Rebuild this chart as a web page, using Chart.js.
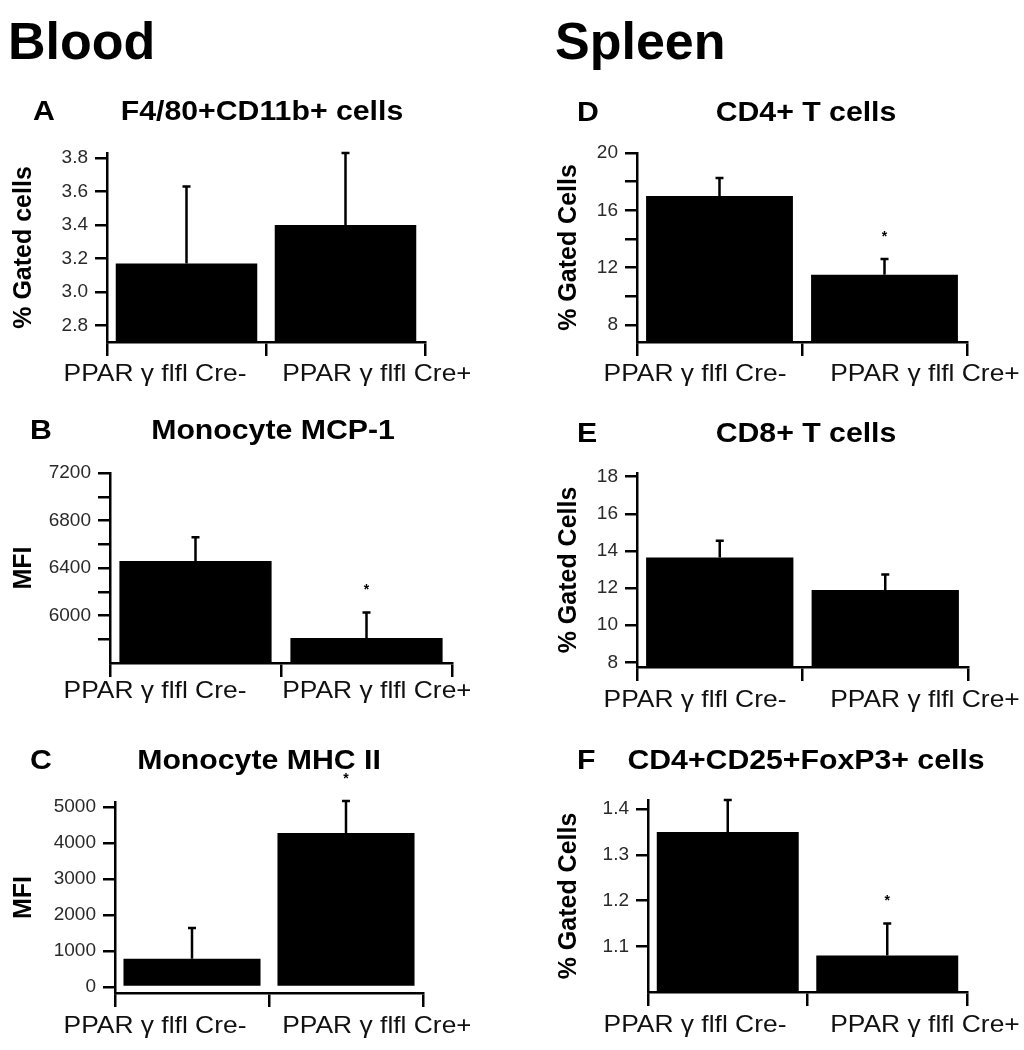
<!DOCTYPE html>
<html lang="en">
<head>
<meta charset="UTF-8">
<title>PPAR γ flfl Cre- vs Cre+ : blood and spleen</title>
<style>
    body { margin: 0; background: #fff; width: 1024px; height: 1050px; position: relative; overflow: hidden; font-family: 'Liberation Sans', Arial, sans-serif; }
    .header { position: absolute; top: 11px; margin: 0; font-size: 52px; line-height: 60px; font-weight: bold; color: #000; }
    canvas { position: absolute; }
</style>
<script src="https://cdn.jsdelivr.net/npm/chart.js"></script>
</head>
<body>
<h1 class="header" style="left:8px">Blood</h1>
<h1 class="header" style="left:555px">Spleen</h1>
<div id="charts"></div>
<script>
    // groups (x axis)
    const groups = ['PPAR γ flfl Cre-', 'PPAR γ flfl Cre+'];

    // A - blood F4/80+CD11b+ cells (% gated)
    const f480Mean = [3.17, 3.40];
    const f480Err = [0.46, 0.43];
    const f480Sig = [false, false];
    const f480Ticks = [2.8, 3.0, 3.2, 3.4, 3.6, 3.8];
    const f480Labels = [2.8, 3.0, 3.2, 3.4, 3.6, 3.8];

    // B - blood monocyte MCP-1 (MFI)
    const mcpMean = [6460, 5810];
    const mcpErr = [200, 215];
    const mcpSig = [false, true];
    const mcpTicks = [5800, 6000, 6200, 6400, 6600, 6800, 7000, 7200];
    const mcpLabels = [6000, 6400, 6800, 7200];

    // C - blood monocyte MHC II (MFI)
    const mhcMean = [780, 4280];
    const mhcErr = [860, 890];
    const mhcSig = [false, true];
    const mhcTicks = [0, 1000, 2000, 3000, 4000, 5000];
    const mhcLabels = [0, 1000, 2000, 3000, 4000, 5000];

    // D - spleen CD4+ T cells (% gated)
    const cd4Mean = [17.0, 11.5];
    const cd4Err = [1.25, 1.1];
    const cd4Sig = [false, true];
    const cd4Ticks = [8, 10, 12, 14, 16, 18, 20];
    const cd4Labels = [8, 12, 16, 20];

    // E - spleen CD8+ T cells (% gated)
    const cd8Mean = [13.65, 11.9];
    const cd8Err = [0.9, 0.83];
    const cd8Sig = [false, false];
    const cd8Ticks = [8, 10, 12, 14, 16, 18];
    const cd8Labels = [8, 10, 12, 14, 16, 18];

    // F - spleen CD4+CD25+FoxP3+ cells (% gated)
    const tregMean = [1.35, 1.08];
    const tregErr = [0.07, 0.07];
    const tregSig = [false, true];
    const tregTicks = [1.1, 1.2, 1.3, 1.4];
    const tregLabels = [1.1, 1.2, 1.3, 1.4];

    const FONT = "'Liberation Sans', Arial, sans-serif";
    Chart.defaults.font.family = FONT;

    const panels = [
        { letter: 'A', title: 'F4/80+CD11b+ cells', yTitle: '% Gated cells', mean: f480Mean, err: f480Err, sig: f480Sig,
          ticks: f480Ticks, labels: f480Labels, min: 2.7, max: 3.83, dec: 1,
          box: { x: 0, y: 80, w: 470, h: 320 }, area: { l: 107, r: 425, t: 153, b: 342 },
          letterX: 33, titleX: 262, titleY: 113, labelX: [155, 377], labelY: 374 },
        { letter: 'B', title: 'Monocyte MCP-1', yTitle: 'MFI', mean: mcpMean, err: mcpErr, sig: mcpSig,
          ticks: mcpTicks, labels: mcpLabels, min: 5600, max: 7200, dec: 0,
          box: { x: 0, y: 400, w: 470, h: 320 }, area: { l: 110, r: 452, t: 473, b: 663 },
          letterX: 30, titleX: 273, titleY: 432, labelX: [155, 377], labelY: 691 },
        { letter: 'C', title: 'Monocyte MHC II', yTitle: 'MFI', mean: mhcMean, err: mhcErr, sig: mhcSig,
          ticks: mhcTicks, labels: mhcLabels, min: -170, max: 5140, dec: 0,
          box: { x: 0, y: 730, w: 470, h: 320 }, area: { l: 115, r: 423, t: 802, b: 993 },
          letterX: 30, titleX: 259, titleY: 762, labelX: [155, 377], labelY: 1026 },
        { letter: 'D', title: 'CD4+ T cells', yTitle: '% Gated Cells', mean: cd4Mean, err: cd4Err, sig: cd4Sig,
          ticks: cd4Ticks, labels: cd4Labels, min: 6.8, max: 20, dec: 0,
          box: { x: 545, y: 80, w: 479, h: 320 }, area: { l: 637, r: 967, t: 153, b: 342 },
          letterX: 577, titleX: 806, titleY: 114, labelX: [695, 925], labelY: 374 },
        { letter: 'E', title: 'CD8+ T cells', yTitle: '% Gated Cells', mean: cd8Mean, err: cd8Err, sig: cd8Sig,
          ticks: cd8Ticks, labels: cd8Labels, min: 7.75, max: 18.2, dec: 0,
          box: { x: 545, y: 400, w: 479, h: 320 }, area: { l: 637, r: 968, t: 473, b: 667 },
          letterX: 577, titleX: 806, titleY: 435, labelX: [695, 925], labelY: 700 },
        { letter: 'F', title: 'CD4+CD25+FoxP3+ cells', yTitle: '% Gated Cells', mean: tregMean, err: tregErr, sig: tregSig,
          ticks: tregTicks, labels: tregLabels, min: 1.0, max: 1.42, dec: 1,
          box: { x: 545, y: 730, w: 479, h: 320 }, area: { l: 648, r: 967, t: 800, b: 992 },
          letterX: 577, titleX: 806, titleY: 762, labelX: [695, 925], labelY: 1025 }
    ];

    // error bars, significance marks, panel titles and the group labels
    const panelDecor = {
        id: 'panelDecor',
        afterDatasetsDraw(chart, args, o) {
            const ctx = chart.ctx;
            const yScale = chart.scales.y;
            const meta = chart.getDatasetMeta(0);
            ctx.save();
            ctx.strokeStyle = '#000';
            ctx.fillStyle = '#000';
            ctx.lineWidth = 2.5;
            meta.data.forEach((bar, i) => {
                const top = yScale.getPixelForValue(o.mean[i] + o.err[i]);
                ctx.beginPath();
                ctx.moveTo(bar.x, bar.y);
                ctx.lineTo(bar.x, top);
                ctx.moveTo(bar.x - 4, top);
                ctx.lineTo(bar.x + 4, top);
                ctx.stroke();
                if (o.sig[i]) {
                    ctx.font = `bold 14px ${FONT}`;
                    ctx.textAlign = 'center';
                    ctx.textBaseline = 'middle';
                    ctx.fillText('*', bar.x, top - 22);
                }
            });
            ctx.restore();
        },
        afterDraw(chart, args, o) {
            const ctx = chart.ctx;
            ctx.save();
            ctx.fillStyle = '#000';
            ctx.textBaseline = 'middle';
            ctx.font = `bold 27px ${FONT}`;

            ctx.save();
            ctx.translate(o.letterX, o.titleY);
            ctx.scale(1.12, 1);
            ctx.textAlign = 'left';
            ctx.fillText(o.letter, 0, 0);
            ctx.restore();

            ctx.save();
            ctx.translate(o.titleX, o.titleY);
            ctx.scale(1.12, 1);
            ctx.textAlign = 'center';
            ctx.fillText(o.title, 0, 0);
            ctx.restore();

            ctx.font = `24px ${FONT}`;
            ctx.fillStyle = '#111';
            chart.data.labels.forEach((txt, i) => {
                ctx.save();
                ctx.translate(o.labelX[i], o.labelY);
                ctx.scale(1.1, 1);
                ctx.textAlign = 'center';
                ctx.fillText(txt, 0, 0);
                ctx.restore();
            });
            ctx.restore();
        }
    };

    const holder = document.getElementById('charts');

    panels.forEach((p) => {
        const cv = document.createElement('canvas');
        cv.width = p.box.w;
        cv.height = p.box.h;
        cv.style.left = p.box.x + 'px';
        cv.style.top = p.box.y + 'px';
        holder.appendChild(cv);

        const yWidth = p.area.l - p.box.x;
        const xHeight = p.box.y + p.box.h - p.area.b;

        new Chart(cv, {
            type: 'bar',
            data: {
                labels: groups,
                datasets: [{
                    data: p.mean,
                    backgroundColor: '#000',
                    borderWidth: 0,
                    barPercentage: 0.89,
                    categoryPercentage: 1.0
                }]
            },
            options: {
                responsive: false,
                animation: false,
                layout: {
                    padding: { left: 0, bottom: 0, top: p.area.t - p.box.y, right: p.box.x + p.box.w - p.area.r }
                },
                plugins: {
                    legend: { display: false },
                    tooltip: { enabled: false },
                    panelDecor: {
                        letter: p.letter, title: p.title,
                        mean: p.mean, err: p.err, sig: p.sig,
                        letterX: p.letterX - p.box.x, titleX: p.titleX - p.box.x, titleY: p.titleY - p.box.y,
                        labelX: p.labelX.map(v => v - p.box.x), labelY: p.labelY - p.box.y
                    }
                },
                scales: {
                    x: {
                        offset: true,
                        grid: { display: true, drawOnChartArea: false, offset: true, color: '#000', lineWidth: 2.5, tickLength: 14 },
                        border: { display: true, color: '#000', width: 2.5 },
                        ticks: { display: false },
                        afterFit: (s) => { s.height = xHeight; }
                    },
                    y: {
                        min: p.min,
                        max: p.max,
                        grid: { display: true, drawOnChartArea: false, color: '#000', lineWidth: 2.5, tickLength: 12 },
                        border: { display: true, color: '#000', width: 2.5 },
                        ticks: {
                            autoSkip: false,
                            color: '#2a2a2a',
                            padding: 7,
                            font: { size: 19 },
                            callback: (v) => p.labels.includes(v) ? v.toFixed(p.dec) : ''
                        },
                        title: {
                            display: true,
                            text: p.yTitle,
                            color: '#000',
                            font: { size: 25, weight: 'bold' },
                            padding: { top: 9, bottom: 0 }
                        },
                        afterBuildTicks: (axis) => { axis.ticks = p.ticks.map(v => ({ value: v })); },
                        afterFit: (s) => { s.width = yWidth; }
                    }
                }
            },
            plugins: [panelDecor]
        });
    });
</script>
</body>
</html>
